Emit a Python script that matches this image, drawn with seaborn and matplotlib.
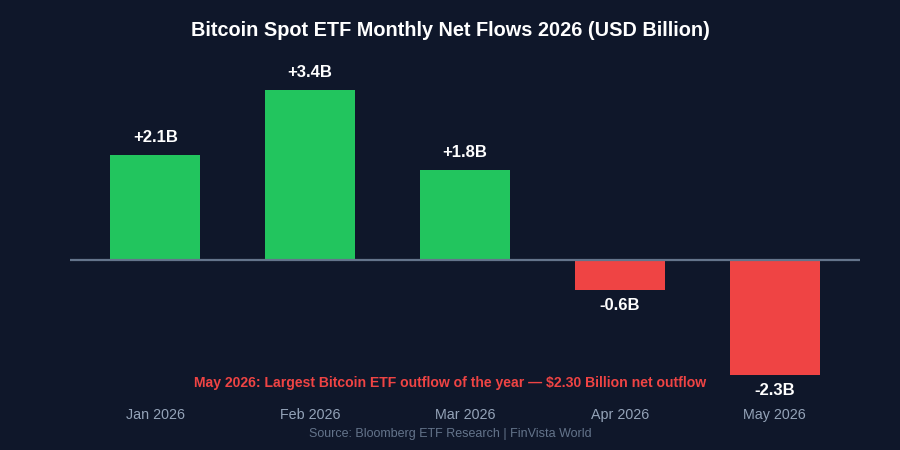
import pandas as pd
import seaborn as sns
import matplotlib.pyplot as plt

months = ["Jan 2026", "Feb 2026", "Mar 2026", "Apr 2026", "May 2026"]
flows = [2.1, 3.4, 1.8, -0.6, -2.3]
labels = ["+2.1B", "+3.4B", "+1.8B", "-0.6B", "-2.3B"]

BG = "#0f172a"
GREEN = "#22c55e"
RED = "#ef4444"

df = pd.DataFrame({"Month": months, "Flow": flows})
colors = [GREEN if v >= 0 else RED for v in flows]

sns.set_style("dark")
plt.rcParams["font.family"] = ["Liberation Sans", "DejaVu Sans"]

fig = plt.figure(figsize=(9, 4.5), dpi=100, facecolor=BG)
ax = fig.add_axes([0.0778, 0.111, 0.8778, 0.7556])
ax.set_facecolor(BG)

sns.barplot(
    data=df,
    x="Month",
    y="Flow",
    hue="Month",
    palette=colors,
    legend=False,
    width=0.58,
    saturation=1,
    linewidth=0,
    edgecolor="none",
    ax=ax,
)

ax.set_xlim(-0.55, 4.55)
ax.set_ylim(-2.8, 4.0)
ax.axhline(0, color="#64748b", lw=1.6, zorder=3)

for i, (v, lab) in enumerate(zip(flows, labels)):
    off = 12.5 if v >= 0 else -11
    ax.annotate(
        lab,
        (i, v),
        xytext=(0, off),
        textcoords="offset points",
        ha="center",
        va="center",
        color="white",
        fontsize=12,
        fontweight="bold",
    )

for s in ax.spines.values():
    s.set_visible(False)
ax.grid(False)
ax.set_yticks([])
ax.set_xlabel("")
ax.set_ylabel("")
ax.tick_params(axis="x", length=0, pad=5.5, labelsize=10.3, colors="#94a3b8")

fig.text(
    0.5,
    1 - 30 / 450,
    "Bitcoin Spot ETF Monthly Net Flows 2026 (USD Billion)",
    ha="center",
    va="center",
    color="white",
    fontsize=14.3,
    fontweight="bold",
)
fig.text(
    0.5,
    1 - 383 / 450,
    "May 2026: Largest Bitcoin ETF outflow of the year \u2014 $2.30 Billion net outflow",
    ha="center",
    va="center",
    color=RED,
    fontsize=10.1,
    fontweight="bold",
)
fig.text(
    0.5,
    1 - 434 / 450,
    "Source: Bloomberg ETF Research | FinVista World",
    ha="center",
    va="center",
    color="#64748b",
    fontsize=9,
)

fig.savefig("out.png", dpi=100, facecolor=BG)
